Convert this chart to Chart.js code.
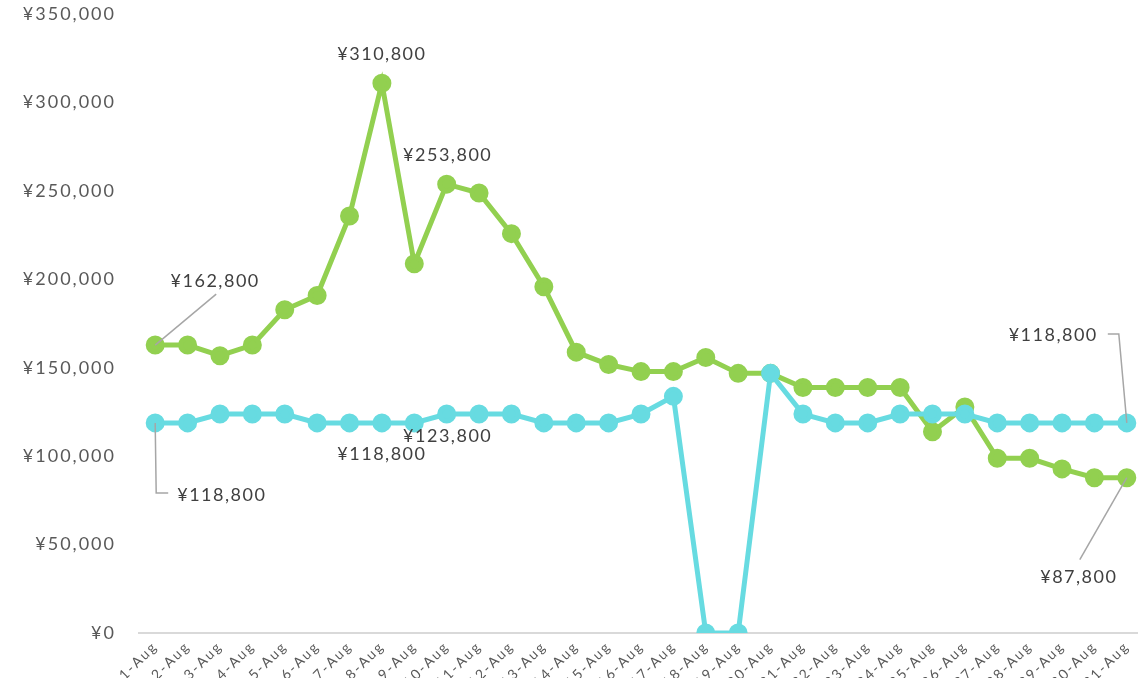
<!DOCTYPE html>
<html>
<head>
<meta charset="utf-8">
<script src="https://cdn.jsdelivr.net/npm/chart.js@4"></script>
<style>
  html, body { margin: 0; padding: 0; background: #fff; overflow: hidden; }
  #wrap { width: 1155px; height: 678px; }
</style>
</head>
<body>
<div id="wrap"><canvas id="salesChart"></canvas></div>
<script>
// Days of August
const days = [
  "1-Aug", "2-Aug", "3-Aug", "4-Aug", "5-Aug", "6-Aug", "7-Aug", "8-Aug",
  "9-Aug", "10-Aug", "11-Aug", "12-Aug", "13-Aug", "14-Aug", "15-Aug", "16-Aug",
  "17-Aug", "18-Aug", "19-Aug", "20-Aug", "21-Aug", "22-Aug", "23-Aug", "24-Aug",
  "25-Aug", "26-Aug", "27-Aug", "28-Aug", "29-Aug", "30-Aug", "31-Aug",
];

// Green series
const greenValues = [
  162800, 162800, 156800, 162800, 182800, 190800, 235800, 310800,
  208800, 253800, 248800, 225800, 195800, 158800, 151800, 147800,
  147800, 155800, 146800, 146800, 138800, 138800, 138800, 138800,
  113800, 127800, 98800, 98800, 92800, 87800, 87800,
];

// Cyan series
const cyanValues = [
  118800, 118800, 123800, 123800, 123800, 118800, 118800, 118800,
  118800, 123800, 123800, 123800, 118800, 118800, 118800, 123800,
  133800, 0, 0, 146800, 123800, 118800, 118800, 123800,
  123800, 123800, 118800, 118800, 118800, 118800, 118800,
];

const yTicks = [0, 50000, 100000, 150000, 200000, 250000, 300000, 350000];

const yen = (v) => "¥" + v.toLocaleString("en-US");

// Which points get a value label, and where it sits relative to the point
const callouts = [
  { ds: 1, i: 0, dx: 60, dy: -64, align: "center", leader: [[0, 0], [61, -51]] },
  { ds: 0, i: 0, dx: 22, dy: 72, align: "left", leader: [[0, 0], [1, 70], [13, 70]] },
  { ds: 1, i: 7, dx: 0, dy: -29, align: "center" },
  { ds: 1, i: 9, dx: 1, dy: -29, align: "center" },
  { ds: 0, i: 7, dx: 0, dy: 31, align: "center" },
  { ds: 0, i: 9, dx: 1, dy: 22, align: "center" },
  { ds: 0, i: 30, dx: -29, dy: -88, align: "right", leader: [[-19, -89], [-8, -89], [0, 0]] },
  { ds: 1, i: 30, dx: -48, dy: 99, align: "center", leader: [[-47, 82], [0, 0]] },
];

// wider letter spacing, closer to the original's geometric font
const spacingPlugin = {
  id: "spacing",
  beforeUpdate(chart) {
    chart.ctx.letterSpacing = "2px";
  },
  beforeDraw(chart) {
    chart.ctx.letterSpacing = "2px";
  },
};

const calloutPlugin = {
  id: "callouts",
  afterDatasetsDraw(chart) {
    const ctx = chart.ctx;
    ctx.save();
    ctx.letterSpacing = "1.5px";
    callouts.forEach((c) => {
      const pt = chart.getDatasetMeta(c.ds).data[c.i];
      const value = chart.data.datasets[c.ds].data[c.i];
      if (c.leader) {
        ctx.strokeStyle = "#a6a6a6";
        ctx.lineWidth = 1.5;
        ctx.beginPath();
        c.leader.forEach((p, k) => {
          if (k === 0) ctx.moveTo(pt.x + p[0], pt.y + p[1]);
          else ctx.lineTo(pt.x + p[0], pt.y + p[1]);
        });
        ctx.stroke();
      }
      ctx.fillStyle = "#404040";
      ctx.font = "18px Lato";
      ctx.textAlign = c.align;
      ctx.textBaseline = "middle";
      ctx.fillText(yen(value), pt.x + c.dx, pt.y + c.dy);
    });
    ctx.restore();
  },
};

const ctx = document.getElementById("salesChart").getContext("2d");

new Chart(ctx, {
  type: "line",
  data: {
    labels: days,
    datasets: [
      {
        label: "Series 1",
        data: cyanValues,
        borderColor: "#67dbe1",
        backgroundColor: "#67dbe1",
        borderWidth: 5,
        pointRadius: 7,
        pointHoverRadius: 7,
        tension: 0,
      },
      {
        label: "Series 2",
        data: greenValues,
        borderColor: "#92d050",
        backgroundColor: "#92d050",
        borderWidth: 5,
        pointRadius: 7,
        pointHoverRadius: 7,
        tension: 0,
      },
    ],
  },
  options: {
    responsive: true,
    maintainAspectRatio: false,
    animation: false,
    layout: { padding: 0 },
    plugins: {
      legend: { display: false },
      tooltip: { enabled: false },
    },
    scales: {
      x: {
        offset: true,
        grid: { display: false, drawTicks: false },
        border: { display: true, color: "#d9d9d9", width: 2 },
        ticks: {
          autoSkip: false,
          minRotation: 45,
          maxRotation: 45,
          padding: 5,
          color: "#595959",
          font: { family: "Lato", size: 14 },
        },
        afterFit(scale) {
          scale.height = 45;
          scale.paddingLeft = 0;
          scale.paddingRight = 0;
        },
      },
      y: {
        min: 0,
        max: 350000,
        afterBuildTicks(scale) {
          scale.ticks = yTicks.map((v) => ({ value: v }));
        },
        grid: { display: false, drawTicks: false },
        border: { display: false },
        ticks: {
          padding: 23,
          color: "#595959",
          font: { family: "Lato", size: 18 },
          callback: (v) => yen(v),
        },
        afterFit(scale) {
          scale.width = 139;
          scale.paddingTop = 14;
          scale.paddingBottom = 0;
        },
      },
    },
  },
  plugins: [spacingPlugin, calloutPlugin],
});
</script>
</body>
</html>
